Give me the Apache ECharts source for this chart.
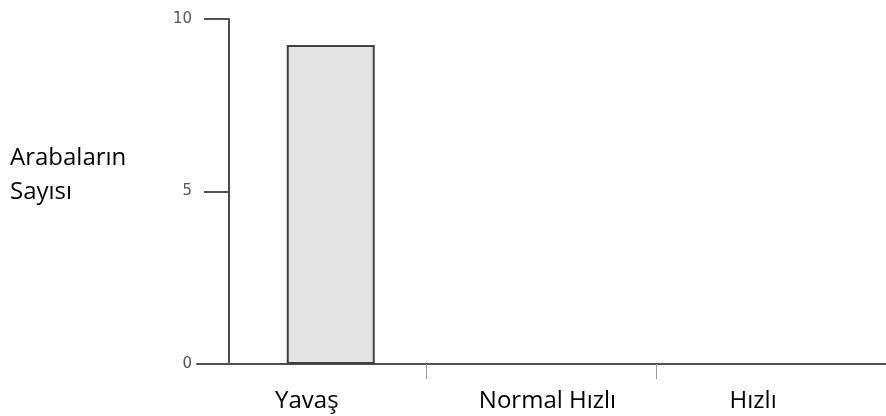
<!DOCTYPE html>
<html>
<head>
<meta charset="utf-8">
<script src="https://cdn.jsdelivr.net/npm/echarts@6/dist/echarts.min.js"></script>
<style>
  html, body { margin: 0; padding: 0; background: #fff; }
  #chart { width: 886px; height: 416px; }
</style>
</head>
<body>
<div id="chart"></div>
<script>
// chart data
var categories = ['Yavaş', 'Normal Hızlı', 'Hızlı'];
var carCounts = [9.25, null, null];
var yTicks = [0, 5, 10];
var yTitle = 'Arabaların\nSayısı';

// small per-label nudges so the labels sit where the original puts them
var labelPad = [[0, 10, 0, 0], [0, 0, 0, 12], [0, 36, 0, 0]];

var rich = {};
categories.forEach(function (c, i) {
  rich['c' + i] = {
    fontFamily: 'Open Sans',
    fontSize: 24,
    color: '#000',
    padding: labelPad[i]
  };
});

var myChart = echarts.init(document.getElementById('chart'));
myChart.setOption({
  animation: false,
  title: {
    text: yTitle,
    left: 10,
    top: 141,
    padding: 0,
    textStyle: {
      fontFamily: 'Open Sans',
      fontSize: 24,
      fontWeight: 'normal',
      lineHeight: 34,
      color: '#000'
    }
  },
  grid: {
    left: 197,
    right: 0,
    top: 19,
    bottom: 52
  },
  xAxis: {
    type: 'category',
    data: categories,
    axisLine: {
      lineStyle: { color: '#505050', width: 2 }
    },
    axisTick: {
      show: true,
      length: 15,
      // no tick at the far left end
      interval: function (i) { return i > 0; },
      lineStyle: { color: '#9a9a9a', width: 1 }
    },
    axisLabel: {
      margin: 25,
      interval: 0,
      formatter: function (v) {
        return '{c' + categories.indexOf(v) + '|' + v + '}';
      },
      rich: rich
    }
  },
  yAxis: {
    type: 'value',
    min: yTicks[0],
    max: yTicks[yTicks.length - 1],
    interval: yTicks[1] - yTicks[0],
    offset: -32,
    axisLine: {
      show: true,
      lineStyle: { color: '#505050', width: 2 }
    },
    axisTick: {
      show: true,
      length: 25,
      lineStyle: { color: '#505050', width: 2 }
    },
    axisLabel: {
      margin: 37,
      fontFamily: 'DejaVu Sans',
      fontSize: 15,
      color: '#555'
    },
    splitLine: { show: false }
  },
  series: [
    {
      // empty series, only shifts the real bar inside its band
      name: 'spacer',
      type: 'bar',
      barWidth: 88,
      barGap: '-57%',
      data: [null, null, null],
      silent: true
    },
    {
      name: 'Arabaların Sayısı',
      type: 'bar',
      barWidth: 88,
      barGap: '-57%',
      itemStyle: {
        color: '#e3e3e3',
        borderColor: '#404040',
        borderWidth: 2
      },
      data: carCounts
    }
  ]
});
</script>
</body>
</html>
